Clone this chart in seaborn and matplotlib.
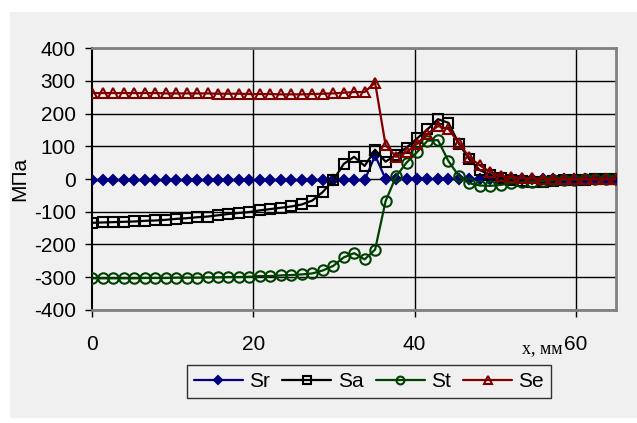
import matplotlib
matplotlib.use("Agg")
import matplotlib.pyplot as plt
from matplotlib.patches import Rectangle
import seaborn as sns
import pandas as pd

# Distance along the part, mm
x_mm = [0.0, 1.3, 2.6, 3.9, 5.2, 6.5, 7.8, 9.1, 10.4, 11.7,
        13.0, 14.3, 15.6, 16.9, 18.2, 19.5, 20.8, 22.1, 23.4, 24.7,
        26.0, 27.3, 28.6, 29.9, 31.2, 32.5, 33.8, 35.1, 36.4, 37.7,
        39.0, 40.3, 41.6, 42.9, 44.2, 45.5, 46.8, 48.1, 49.4, 50.7,
        52.0, 53.3, 54.6, 55.9, 57.2, 58.5, 59.8, 61.1, 62.4, 63.7, 65.0]

# Stress components, MPa
sr = [-4, -4, -4, -4, -4, -4, -4, -4, -4, -4,
      -4, -4, -4, -4, -4, -4, -4, -4, -4, -4,
      -4, -4, -4, -4, -4, -4, -4, 72, 0, 0,
      0, 0, 0, 0, 0, 0, 0, 0, 0, 0,
      0, 0, 0, 0, 0, 0, 0, 0, 0, 0, 0]
sa = [-134, -133, -132, -131, -130, -128, -127, -125, -122, -120,
      -117, -115, -111, -107, -104, -101, -96, -92, -88, -84,
      -78, -66, -40, -4, 46, 68, 40, 89, 53, 74,
      96, 124, 152, 183, 172, 108, 60, 27, 13, 4,
      -3, -7, -8, -8, -6, -4, -3, -2, -1, 0, 0]
st = [-304, -304, -304, -304, -304, -303, -303, -303, -302, -302,
      -302, -301, -301, -300, -300, -299, -297, -297, -295, -294,
      -292, -289, -280, -266, -240, -227, -246, -216, -68, 8,
      50, 82, 117, 119, 55, 9, -13, -20, -21, -18,
      -13, -10, -8, -6, -4, -3, -2, -1, -1, 0, 0]
se = [263, 263, 263, 263, 263, 263, 263, 262, 262, 262,
      262, 262, 261, 261, 261, 260, 260, 260, 259, 259,
      259, 260, 261, 262, 264, 266, 266, 295, 104, 68,
      82, 108, 138, 162, 153, 110, 66, 42, 21, 9,
      5, 3, 2, 1, 1, 0, 0, 0, 0, 0, 0]

series_names = ["Sr", "Sa", "St", "Se"]
series_values = [sr, sa, st, se]
series_colors = ["#000080", "#000000", "#004000", "#800000"]
series_markers = ["D", "s", "o", "^"]
series_msize = [5.0, 7.5, 7.5, 7.5]
series_fill = [True, False, False, False]

x_ticks = [0, 20, 40, 60]
y_ticks = [-400, -300, -200, -100, 0, 100, 200, 300, 400]
x_range = (0, 65)
y_range = (-400, 400)

df = pd.DataFrame({"x": x_mm})
for name, vals in zip(series_names, series_values):
    df[name] = vals

sns.set_style("white")
plt.rcParams["font.family"] = ["Liberation Sans", "DejaVu Sans"]
plt.rcParams["text.color"] = "#000000"
plt.rcParams["axes.labelcolor"] = "#000000"
plt.rcParams["axes.unicode_minus"] = False

bg = "#f0f0f0"
W, H = 637, 423
fig = plt.figure(figsize=(W / 100, H / 100), dpi=100, facecolor=bg)

# White margin strips around the gray chart area (outside the plot region only)
for (x0, y0, w, h) in [(0, 0, 10, H), (0, H - 12, W, 12), (0, 0, W, 5)]:
    fig.add_artist(Rectangle((x0 / W, y0 / H), w / W, h / H, transform=fig.transFigure,
                             facecolor="white", edgecolor="none", zorder=-5))

ax = fig.add_axes([92.3 / W, 1 - 309.7 / H, (616 - 92.3) / W, (309.7 - 48.3) / H])
ax.set_facecolor("none")

# Gridlines at every major tick, beneath the data lines
ax.hlines(y_ticks, *x_range, colors="#000000", linewidths=1.0, zorder=1.5)
ax.vlines(x_ticks[1:], *y_range, colors="#000000", linewidths=1.0, zorder=1.5)

for name, color, mk, ms, filled in zip(series_names, series_colors, series_markers,
                                       series_msize, series_fill):
    sns.lineplot(data=df, x="x", y=name, ax=ax, color=color, marker=mk,
                 markersize=ms, markeredgecolor=color,
                 markerfacecolor=color if filled else "none",
                 markeredgewidth=1.5, linewidth=1.6, label=name,
                 legend=False, estimator=None, sort=False, zorder=3)

ax.set_xlim(*x_range)
ax.set_ylim(*y_range)
ax.set_xticks(x_ticks)
ax.set_yticks(y_ticks)

for side in ["top", "right", "bottom"]:
    ax.spines[side].set_color("#808080")
    ax.spines[side].set_linewidth(2.0)
ax.spines["left"].set_color("#000000")
ax.spines["left"].set_linewidth(1.5)

ax.tick_params(axis="both", direction="out", length=5, width=1, color="#000000",
               labelsize=15, labelcolor="#000000")
ax.tick_params(axis="y", pad=7, left=True)
ax.tick_params(axis="x", pad=13, bottom=True)

ax.set_xlabel("")
ax.set_ylabel("МПа", fontsize=15, color="#000000")
ax.yaxis.set_label_coords(-0.12, 0.5)

fig.text(562 / W, 1 - 353 / H, "x, мм", ha="right", va="baseline",
         family=["Liberation Serif", "DejaVu Serif"], fontsize=13)

leg = fig.legend(loc="center", bbox_to_anchor=(369 / W, 1 - 381.5 / H),
                 ncol=4, fontsize=15, frameon=True, fancybox=False,
                 handlelength=2.35, handletextpad=0.3, columnspacing=0.6,
                 borderpad=0.35, markerscale=0.75)
leg.get_frame().set_edgecolor("#000000")
leg.get_frame().set_facecolor(bg)
leg.get_frame().set_linewidth(1.0)
for t in leg.get_texts():
    t.set_color("#000000")

fig.savefig("out.png", dpi=100, facecolor=fig.get_facecolor())
